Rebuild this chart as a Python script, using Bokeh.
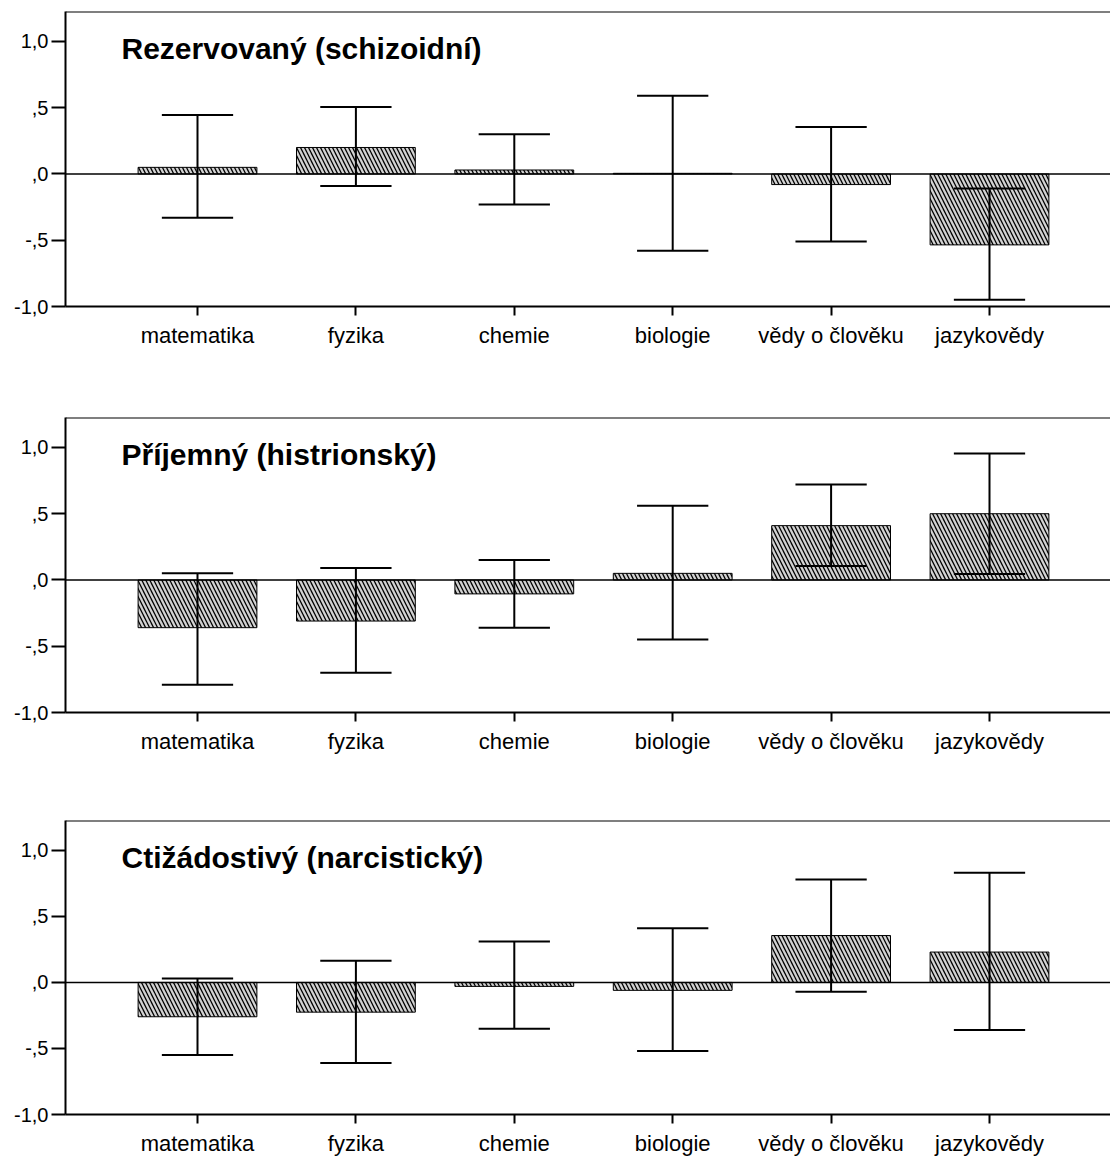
from bokeh.plotting import figure
from bokeh.layouts import column
from bokeh.models import FixedTicker, Span, Label, Range1d
from bokeh.embed import file_html
from bokeh.resources import INLINE

categories = ["matematika", "fyzika", "chemie", "biologie", "vědy o člověku", "jazykovědy"]
titles = ["Rezervovaný (schizoidní)", "Příjemný (histrionský)", "Ctižádostivý (narcistický)"]

# panel 1: Rezervovaný
means_1 = [0.05, 0.20, 0.03, 0.005, -0.08, -0.535]
upper_1 = [0.445, 0.505, 0.30, 0.59, 0.355, -0.11]
lower_1 = [-0.33, -0.09, -0.23, -0.58, -0.51, -0.95]

# panel 2: Příjemný
means_2 = [-0.36, -0.31, -0.105, 0.05, 0.41, 0.50]
upper_2 = [0.05, 0.09, 0.15, 0.56, 0.72, 0.955]
lower_2 = [-0.79, -0.70, -0.36, -0.45, 0.105, 0.045]

# panel 3: Ctižádostivý
means_3 = [-0.26, -0.225, -0.03, -0.06, 0.355, 0.23]
upper_3 = [0.03, 0.165, 0.31, 0.41, 0.78, 0.83]
lower_3 = [-0.55, -0.61, -0.35, -0.52, -0.07, -0.36]

y_ticks = [-1, -0.5, 0, 0.5, 1]
y_tick_labels = ["-1,0", "-,5", ",0", ",5", "1,0"]

FONT = "Liberation Sans"
FIG_W = 1110
LEFT = 65
FRAME_W = FIG_W - LEFT
FRAME_H = 295
PX_PER_CAT = 158.4
X_START = 1 - 132 / PX_PER_CAT
X_END = X_START + FRAME_W / PX_PER_CAT
Y_START, Y_END = -1.0, 1.226
BAR_W = 0.75
CAP_HALF = 0.225


def make_panel(title, means, upper, lower, height, border_top, border_bottom):
    x = list(range(1, len(categories) + 1))
    p = figure(width=FIG_W, height=height, output_backend="svg", toolbar_location=None,
               x_range=Range1d(X_START, X_END), y_range=Range1d(Y_START, Y_END),
               min_border_left=LEFT, min_border_right=0, min_border_top=border_top,
               min_border_bottom=border_bottom)
    p.outline_line_color = None
    p.grid.visible = False
    p.background_fill_color = "white"
    p.border_fill_color = "white"

    p.vbar(x=x, top=means, bottom=0, width=BAR_W, fill_color="#d2d2d2",
           line_color="black", line_width=1, hatch_pattern="\\", hatch_color="black",
           hatch_scale=8, hatch_weight=1.3)

    p.add_layout(Span(location=0, dimension="width", line_color="black", line_width=1.5))
    p.add_layout(Span(location=Y_END, dimension="width", line_color="black", line_width=2))

    p.segment(x0=x, y0=lower, x1=x, y1=upper, line_color="black", line_width=2)
    xl = [v - CAP_HALF for v in x]
    xr = [v + CAP_HALF for v in x]
    p.segment(x0=xl, y0=upper, x1=xr, y1=upper, line_color="black", line_width=2)
    p.segment(x0=xl, y0=lower, x1=xr, y1=lower, line_color="black", line_width=2)

    # axes
    p.xaxis.ticker = FixedTicker(ticks=x)
    p.xaxis.major_label_overrides = {i: c for i, c in zip(x, categories)}
    p.xaxis.minor_tick_line_color = None
    p.xaxis.major_tick_in = 0
    p.xaxis.major_tick_out = 9
    p.xaxis.major_tick_line_width = 2
    p.xaxis.axis_line_width = 2
    p.xaxis.major_label_standoff = 7
    p.xaxis.major_label_text_font = FONT
    p.xaxis.major_label_text_font_size = "22px"
    p.xaxis.major_label_text_color = "black"

    p.yaxis.ticker = FixedTicker(ticks=y_ticks)
    p.yaxis.major_label_overrides = {t: l for t, l in zip(y_ticks, y_tick_labels)}
    p.yaxis.minor_tick_line_color = None
    p.yaxis.major_tick_in = 0
    p.yaxis.major_tick_out = 14
    p.yaxis.major_tick_line_width = 2
    p.yaxis.axis_line_width = 2
    p.yaxis.major_label_standoff = 3
    p.yaxis.major_label_text_font = FONT
    p.yaxis.major_label_text_font_size = "20px"
    p.yaxis.major_label_text_color = "black"

    px_per_y = FRAME_H / (Y_END - Y_START)
    tx = X_START + 56 / PX_PER_CAT
    ty = Y_END - 37 / px_per_y
    p.add_layout(Label(x=tx, y=ty, text=title, text_font=FONT, text_font_size="30px",
                       text_font_style="bold", text_color="black",
                       text_baseline="alphabetic", text_align="left"))
    return p


p1 = make_panel(titles[0], means_1, upper_1, lower_1, 406, 11, 100)
p2 = make_panel(titles[1], means_2, upper_2, lower_2, 403, 11, 97)
p3 = make_panel(titles[2], means_3, upper_3, lower_3, 349, 11, 43)

layout = column(p1, p2, p3)
open("out.html", "w").write(file_html(layout, INLINE))
